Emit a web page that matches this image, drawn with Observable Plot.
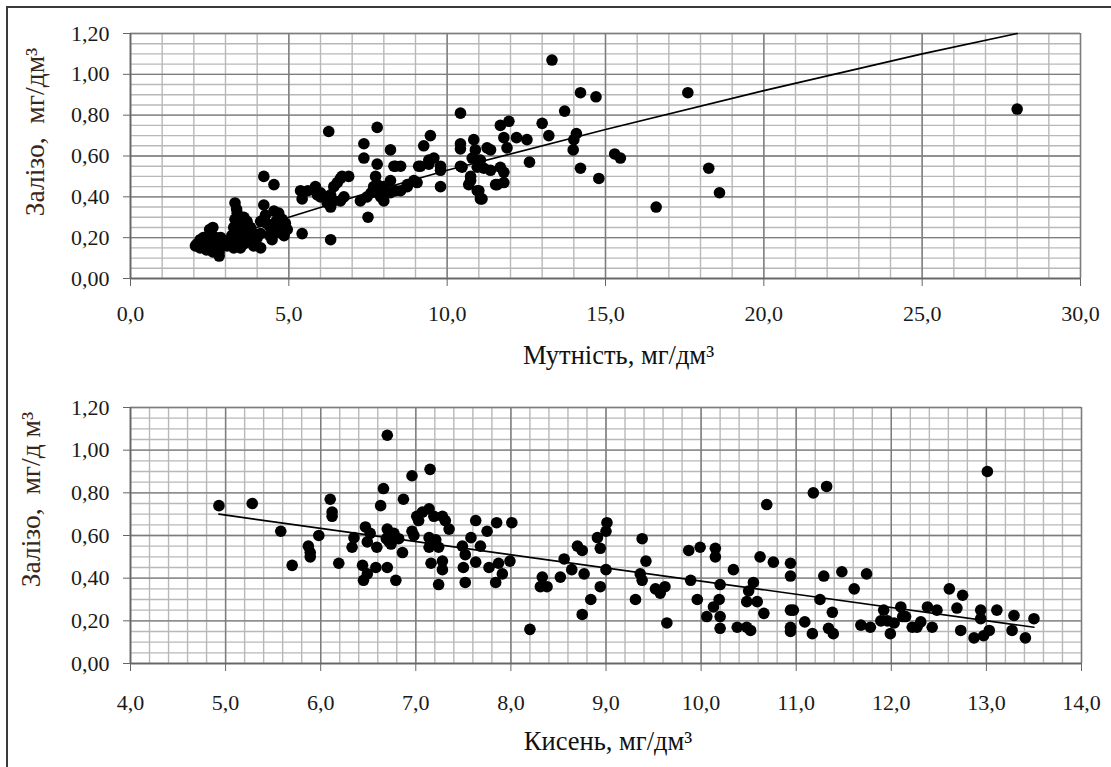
<!DOCTYPE html>
<html><head><meta charset="utf-8">
<script src="https://cdn.jsdelivr.net/npm/d3@7"></script>
<script src="https://cdn.jsdelivr.net/npm/@observablehq/plot@0.6"></script>
<style>
body{margin:0;background:#fff;width:1111px;height:767px;overflow:hidden;position:relative;font-family:"Liberation Serif",serif}
#frame{position:absolute;left:6px;top:6px;width:1120px;height:780px;border-left:2px solid #3a3a3a;border-top:2px solid #3a3a3a}
#top{position:absolute;left:0;top:0}
#bottom{position:absolute;left:0;top:375px}
</style></head><body><div id="frame"></div><div id="top"></div><div id="bottom"></div>
<script>
// ---- Top chart: turbidity (мутність) vs iron (залізо) ----
const turbidityIron = [
 [2.05,0.16],[2.1,0.17],[2.2,0.15],[2.3,0.16],[2.3,0.20],[2.4,0.14],[2.4,0.18],[2.5,0.21],[2.5,0.24],[2.6,0.25],
 [2.6,0.17],[2.7,0.20],[2.8,0.11],[2.8,0.13],[2.85,0.20],[2.9,0.17],[3.0,0.18],[3.05,0.16],[2.2,0.19],[2.6,0.13],
 [3.16,0.19],[3.26,0.25],[3.26,0.22],[3.26,0.15],[3.3,0.37],[3.35,0.34],[3.37,0.32],[3.37,0.19],[3.47,0.28],[3.47,0.22],
 [3.47,0.15],[3.58,0.30],[3.58,0.17],[3.68,0.28],[3.68,0.22],[3.79,0.25],[3.89,0.22],[3.89,0.16],[3.4,0.26],[3.5,0.24],
 [3.6,0.20],[3.3,0.29],[3.7,0.18],[3.55,0.26],[3.2,0.21],[3.95,0.18],
 [4.11,0.28],[4.11,0.22],[4.11,0.15],[4.21,0.50],[4.21,0.36],[4.26,0.31],[4.42,0.25],[4.47,0.19],[4.53,0.46],[4.53,0.33],
 [4.53,0.22],[4.68,0.32],[4.79,0.29],[4.79,0.22],[4.89,0.27],[4.95,0.24],[4.3,0.27],[4.6,0.28],[4.7,0.25],[4.0,0.20],
 [4.4,0.21],[4.85,0.21],
 [5.37,0.43],[5.42,0.39],[5.42,0.22],[5.84,0.45],[6.0,0.42],[6.0,0.40],[6.16,0.40],[6.26,0.72],[6.32,0.41],[6.32,0.35],
 [6.32,0.19],[6.42,0.38],[6.42,0.45],[6.53,0.47],[6.63,0.38],[6.63,0.49],[6.68,0.50],[6.74,0.40],[6.89,0.50],[6.21,0.37],
 [5.6,0.43],[5.9,0.41],
 [7.26,0.38],[7.37,0.66],[7.37,0.59],[7.47,0.40],[7.5,0.30],[7.68,0.45],[7.74,0.50],[7.79,0.74],[7.79,0.56],[7.79,0.46],
 [7.79,0.42],[8.0,0.45],[8.0,0.38],[8.11,0.42],[8.21,0.63],[8.21,0.48],[8.21,0.42],[8.32,0.55],[8.37,0.55],[8.37,0.43],
 [8.53,0.55],[8.53,0.43],[8.74,0.46],[8.74,0.45],[8.95,0.48],[9.05,0.47],[7.9,0.40],[7.6,0.42],
 [9.10,0.55],[9.16,0.55],[9.26,0.65],[9.42,0.58],[9.42,0.56],[9.47,0.70],[9.58,0.59],[9.79,0.55],[9.79,0.53],[9.79,0.45],
 [10.42,0.81],[10.42,0.66],[10.42,0.635],[10.42,0.55],[10.47,0.545],[10.68,0.46],[10.74,0.50],[10.74,0.48],[10.79,0.59],[10.84,0.68],
 [10.89,0.63],[10.95,0.545],[10.95,0.43],[11.0,0.43],[11.05,0.58],[11.05,0.39],[11.1,0.39],[11.16,0.54],[11.26,0.64],[11.37,0.63],
 [11.37,0.53],[11.53,0.46],[11.58,0.46],[11.68,0.75],[11.68,0.545],[11.79,0.69],[11.79,0.52],[11.79,0.47],[11.89,0.64],[11.95,0.77],
 [12.19,0.69],[12.52,0.68],[12.6,0.57],
 [13.0,0.76],[13.21,0.70],[13.31,1.07],[13.71,0.82],[13.98,0.63],[14.0,0.68],[14.08,0.71],[14.21,0.91],[14.21,0.54],[14.7,0.89],
 [14.79,0.49],[15.29,0.61],[15.47,0.59],[16.6,0.35],[17.6,0.91],[18.26,0.54],[18.6,0.42],[28.0,0.83]
];
// trend line (power-type curve)
const turbidityTrend = [[2.05,0.15],[3,0.20],[5,0.30],[7.5,0.42],[10,0.53],[15,0.73],[20,0.92],[25,1.10],[28,1.20]];
const topXTicks = [0,5,10,15,20,25,30];
const yTicks = [0,0.2,0.4,0.6,0.8,1.0,1.2];

// ---- Bottom chart: oxygen (кисень) vs iron (залізо) ----
const oxygenIron = [
 [4.93,0.74],[5.28,0.75],[5.58,0.62],[5.70,0.46],[5.87,0.55],[5.89,0.52],[5.89,0.50],[5.98,0.60],[6.10,0.77],[6.12,0.71],
 [6.12,0.69],[6.19,0.47],[6.33,0.545],[6.35,0.59],[6.44,0.46],[6.45,0.39],[6.49,0.42],[6.58,0.45],[6.70,0.45],[6.47,0.64],
 [6.52,0.61],[6.49,0.57],[6.59,0.545],[6.72,0.57],[6.70,0.63],[6.77,0.61],[6.63,0.74],[6.66,0.82],[6.70,1.07],[6.79,0.39],
 [6.96,0.88],[7.15,0.91],[6.87,0.77],[7.01,0.69],[7.07,0.71],[7.14,0.725],[7.19,0.69],[7.28,0.69],[7.31,0.67],[7.35,0.63],
 [6.96,0.62],[7.03,0.67],[6.98,0.60],[6.69,0.585],[6.74,0.56],[6.82,0.585],[6.86,0.52],[7.14,0.59],[7.21,0.58],[7.24,0.545],
 [7.14,0.545],[7.16,0.47],[7.28,0.48],[7.28,0.44],[7.24,0.37],[7.49,0.55],[7.52,0.51],[7.58,0.59],[7.63,0.67],[7.68,0.55],
 [7.50,0.45],[7.52,0.38],[7.63,0.475],[7.75,0.62],[7.85,0.66],[7.77,0.45],[7.87,0.47],[7.84,0.38],[7.91,0.42],[8.01,0.66],
 [7.99,0.48],
 [8.20,0.16],[8.33,0.405],[8.31,0.36],[8.38,0.36],[8.52,0.405],[8.56,0.49],[8.64,0.44],[8.70,0.55],[8.75,0.53],[8.77,0.42],
 [8.75,0.23],[8.84,0.30],[8.91,0.59],[9.00,0.62],[9.01,0.66],[8.94,0.54],[8.94,0.36],[9.0,0.44],
 [9.38,0.585],[9.42,0.48],[9.36,0.42],[9.38,0.39],[9.31,0.30],[9.52,0.35],[9.57,0.33],[9.62,0.36],[9.64,0.19],
 [9.87,0.53],[9.99,0.545],[10.15,0.54],[10.15,0.50],[9.89,0.39],[9.96,0.30],[10.20,0.37],[10.19,0.30],[10.13,0.265],[10.06,0.22],
 [10.20,0.22],[10.20,0.165],[10.34,0.44],[10.38,0.17],[10.48,0.17],[10.52,0.155],[10.55,0.38],[10.50,0.34],[10.48,0.29],[10.59,0.29],
 [10.66,0.235],[10.62,0.50],[10.69,0.745],[10.76,0.475],
 [10.94,0.47],[10.94,0.41],[11.29,0.41],[11.48,0.43],[11.74,0.42],[11.61,0.35],[11.25,0.30],[10.94,0.25],[10.97,0.25],[10.94,0.17],
 [10.94,0.15],[11.09,0.195],[11.17,0.14],[11.38,0.24],[11.34,0.165],[11.39,0.14],[11.18,0.80],[11.32,0.83],[11.68,0.18],[11.78,0.17],
 [11.92,0.25],[11.89,0.20],[11.96,0.20],[11.99,0.14],[12.03,0.19],[12.10,0.265],[12.12,0.22],[12.15,0.22],[12.22,0.17],[12.27,0.17],
 [12.31,0.195],[12.38,0.265],[12.43,0.17],[12.48,0.25],
 [12.61,0.35],[12.75,0.32],[12.69,0.26],[12.73,0.155],[12.94,0.25],[12.94,0.21],[12.87,0.12],[12.97,0.13],[13.03,0.155],[13.01,0.90],
 [13.11,0.25],[13.29,0.225],[13.27,0.155],[13.41,0.12],[13.50,0.21]
];
const oxygenTrend = [[4.93,0.70],[13.5,0.17]];
const bottomXTicks = [4,5,6,7,8,9,10,11,12,13,14];

const fmtX = d => d.toFixed(1).replace(".", ",");
const fmtY = d => d.toFixed(2).replace(".", ",");

function chart(o) {
  const minorY = d3.range(0, 1.2001, 0.05);
  const marks = [
    Plot.gridX(o.xMinor, {stroke: "#b8b8b8", strokeOpacity: 1, strokeWidth: 1.4}),
    Plot.gridY(minorY, {stroke: "#b8b8b8", strokeOpacity: 1, strokeWidth: 1.4}),
    Plot.gridX(o.xTicks, {stroke: "#7c7c7c", strokeOpacity: 1, strokeWidth: 1.4}),
    Plot.gridY(yTicks, {stroke: "#7c7c7c", strokeOpacity: 1, strokeWidth: 1.4}),
    Plot.ruleX([o.xDomain[0]], {stroke: "#666", strokeWidth: 1.6}),
    Plot.ruleY([0], {stroke: "#666", strokeWidth: 1.6}),
    Plot.axisX(o.xTicks, {tickSize: 8, tickPadding: o.xPad, tickFormat: fmtX, stroke: "#666", fill: "#1a1a1a", fontSize: 22, label: null}),
    Plot.axisY(yTicks, {tickSize: 7, tickPadding: 14, tickFormat: fmtY, stroke: "#666", fill: "#1a1a1a", fontSize: 22, label: null}),
    Plot.line(o.trend, {x: d => d[0], y: d => d[1], stroke: "#000", strokeWidth: 1.7}),
    Plot.dot(o.points, {x: d => d[0], y: d => d[1], r: 5.8, fill: "#000"}),
    Plot.text([o.xLabel], {frameAnchor: "bottom", textAnchor: "middle", lineAnchor: "middle", dy: o.xLabelDy, dx: o.xLabelDx, fontSize: 26.5, fill: "#111", text: d => d}),
    Plot.text([o.yLabel], {frameAnchor: "left", textAnchor: "middle", lineAnchor: "middle", rotate: -90, dx: o.yLabelDx, dy: o.yLabelDy, fontSize: 27.5, fill: "#3a2618", text: d => d})
  ];
  return Plot.plot({
    width: 1111, height: o.height,
    marginLeft: 130, marginRight: o.marginRight, marginTop: o.marginTop, marginBottom: o.marginBottom,
    style: {fontFamily: "'Liberation Serif', serif", fontSize: "22px", background: "transparent", overflow: "visible"},
    x: {domain: o.xDomain, axis: null},
    y: {domain: [0, 1.2], axis: null},
    marks
  });
}

document.getElementById("top").append(chart({
  points: turbidityIron, trend: turbidityTrend,
  xDomain: [0, 30], xTicks: topXTicks, xMinor: d3.range(0, 30.001, 1),
  height: 380, marginTop: 33, marginBottom: 102, marginRight: 31,
  xPad: 19, xLabel: "Мутність, мг/дм³", xLabelDx: 13, xLabelDy: 77,
  yLabel: "Залізо,  мг/дм³", yLabelDx: -95, yLabelDy: -24
}));
document.getElementById("bottom").append(chart({
  points: oxygenIron, trend: oxygenTrend,
  xDomain: [4, 14], xTicks: bottomXTicks, xMinor: d3.range(4, 14.001, 0.2),
  height: 392, marginTop: 32, marginBottom: 104, marginRight: 30,
  xPad: 23, xLabel: "Кисень, мг/дм³", xLabelDx: 2, xLabelDy: 78,
  yLabel: "Залізо,  мг/д м³", yLabelDx: -99, yLabelDy: -36
}));
</script>
</body></html>
